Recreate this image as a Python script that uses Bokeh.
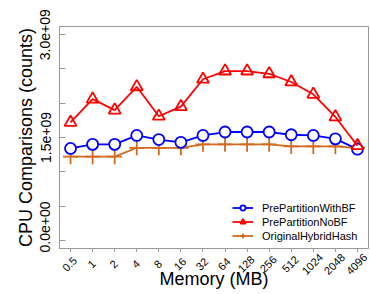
import math
from bokeh.plotting import figure
from bokeh.layouts import column
from bokeh.models import Range1d, FixedTicker, Legend, LegendItem
from bokeh.core.properties import value
from bokeh.embed import file_html
from bokeh.resources import INLINE

# ---- data ----
mem_labels = ["0.5", "1", "2", "4", "8", "16", "32", "64", "128", "256", "512", "1024", "2048", "4096"]
with_bf = [1.34e9, 1.40e9, 1.40e9, 1.53e9, 1.47e9, 1.43e9, 1.53e9, 1.58e9, 1.58e9, 1.58e9, 1.54e9, 1.53e9, 1.48e9, 1.33e9]
no_bf = [1.72e9, 2.06e9, 1.90e9, 2.24e9, 1.81e9, 1.95e9, 2.35e9, 2.47e9, 2.47e9, 2.43e9, 2.31e9, 2.13e9, 1.80e9, 1.38e9]
orig_hh = [1.22e9, 1.22e9, 1.22e9, 1.35e9, 1.35e9, 1.35e9, 1.40e9, 1.40e9, 1.40e9, 1.40e9, 1.37e9, 1.37e9, 1.37e9, 1.35e9]
series_names = ["PrePartitionWithBF", "PrePartitionNoBF", "OriginalHybridHash"]
x_title = "Memory (MB)"
y_title = "CPU Comparisons (counts)"
y_tick_vals = [0, 1500000000, 3000000000]
y_tick_labels = ["0.0e+00", "1.5e+09", "3.0e+09"]
y_minor_vals = [500000000, 1000000000, 2000000000, 2500000000]

FONT = "Liberation Sans"
BLUE = "#0000FF"
RED = "#FF0000"
ORANGE = "#D2691E"
GREY = "#999999"

xs = list(range(len(mem_labels)))
x_lo, x_hi = -0.5, len(xs) - 0.5

p = figure(width=370, height=252, output_backend="svg", toolbar_location=None,
           x_range=Range1d(x_lo, x_hi), y_range=Range1d(-0.12e9, 3.12e9),
           min_border_left=59, min_border_right=2, min_border_top=26, min_border_bottom=4)
p.grid.visible = False
p.outline_line_color = GREY
p.outline_line_width = 1
p.background_fill_color = "white"
p.border_fill_color = "white"

# x axis: tick marks only (labels drawn in the strip below)
xa = p.xaxis[0]
xa.ticker = FixedTicker(ticks=xs)
xa.major_label_overrides = {i: "" for i in xs}
xa.major_label_text_font_size = "0px"
xa.major_label_standoff = 0
xa.major_tick_out = 4
xa.major_tick_in = 0
xa.minor_tick_out = 0
xa.minor_tick_in = 0
xa.axis_line_color = GREY
xa.major_tick_line_color = GREY

# y axis
ya = p.yaxis[0]
ya.ticker = FixedTicker(ticks=y_tick_vals, minor_ticks=y_minor_vals)
ya.major_label_overrides = {v: lab for v, lab in zip(y_tick_vals, y_tick_labels)}
ya.major_label_orientation = "vertical"
ya.major_tick_in = 6
ya.major_tick_out = 0
ya.minor_tick_in = 6
ya.minor_tick_out = 0
ya.major_label_standoff = 9
ya.major_label_text_font_size = "14px"
ya.major_label_text_font = FONT
ya.major_label_text_color = "black"
ya.axis_line_color = GREY
ya.major_tick_line_color = GREY
ya.minor_tick_line_color = GREY
ya.axis_label = y_title
ya.axis_label_text_font = FONT
ya.axis_label_text_font_size = "18px"
ya.axis_label_text_font_style = "normal"
ya.axis_label_text_color = "black"
ya.axis_label_standoff = 2

LW = 1.8
l_orig = p.line(xs, orig_hh, line_color=ORANGE, line_width=LW)
s_orig = p.scatter(xs, orig_hh, marker="cross", size=15, line_color=ORANGE, line_width=LW)
l_bf = p.line(xs, with_bf, line_color=BLUE, line_width=LW)
s_bf = p.scatter(xs, with_bf, marker="circle", size=11, line_color=BLUE, fill_color="white", line_width=LW)
l_nobf = p.line(xs, no_bf, line_color=RED, line_width=LW)
s_nobf = p.scatter(xs, no_bf, marker="triangle", size=12, line_color=RED, fill_alpha=0, line_width=LW)

legend = Legend(items=[
    LegendItem(label=series_names[0], renderers=[l_bf, s_bf]),
    LegendItem(label=series_names[1], renderers=[l_nobf, s_nobf]),
    LegendItem(label=series_names[2], renderers=[l_orig, s_orig]),
], location=(173, 6))
legend.label_text_font = FONT
legend.label_text_font_size = "11px"
legend.label_text_color = "black"
legend.glyph_width = 21
legend.glyph_height = 13
legend.label_height = 13
legend.spacing = 1
legend.label_standoff = 9
legend.padding = 0
legend.margin = 0
legend.border_line_alpha = 0
legend.background_fill_alpha = 0
p.add_layout(legend, "center")

# strip below the plot: rotated tick labels and the x-axis title
STRIP_H = 42
p2 = figure(width=370, height=STRIP_H, output_backend="svg", toolbar_location=None,
            x_range=p.x_range, y_range=Range1d(0, STRIP_H),
            x_axis_location=None, y_axis_location=None,
            min_border_left=59, min_border_right=2, min_border_top=0, min_border_bottom=0)
p2.grid.visible = False
p2.outline_line_color = None
p2.background_fill_color = "white"
p2.border_fill_color = "white"

p2.text(x=xs, y=[STRIP_H - 11.5] * len(xs), text=mem_labels, angle=math.pi / 4,
        x_offset=-1, text_align="center", text_baseline="middle",
        text_font=value(FONT), text_font_size=value("11px"), text_color="black")
p2.text(x=[(x_lo + x_hi) / 2], y=[15.5], text=[x_title],
        text_align="center", text_baseline="middle",
        text_font=value(FONT), text_font_size=value("18px"), text_color="black")

layout = column(p, p2, spacing=0)
open("out.html", "w").write(file_html(layout, INLINE))
